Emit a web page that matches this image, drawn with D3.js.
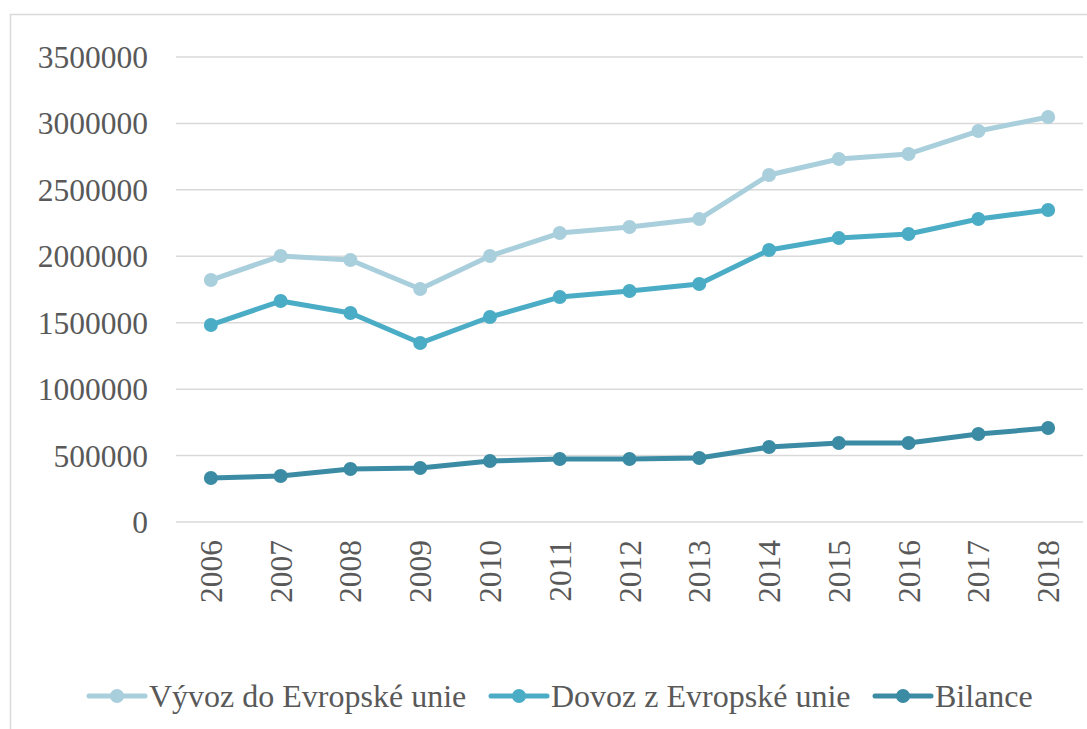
<!DOCTYPE html>
<meta charset="utf-8">
<style>
body { margin: 0; background: #fff; }
svg text { font-family: "Liberation Serif", Tinos, "Times New Roman", "DejaVu Serif", serif; }
.grid line { stroke: #d9d9d9; stroke-width: 1.5px; }
.axis text { fill: #595959; font-size: 31.5px; }
.legend text { fill: #595959; font-size: 32px; }
</style>
<svg width="1087" height="729"></svg>
<script src="https://cdn.jsdelivr.net/npm/d3@7"></script>
<script>

var years = ["2006", "2007", "2008", "2009", "2010", "2011", "2012", "2013", "2014", "2015", "2016", "2017", "2018"];
var vyvoz = [1821000, 2002000, 1972000, 1754000, 2002000, 2175000, 2220000, 2280000, 2612000, 2732000, 2770000, 2943000, 3048000];
var dovoz = [1483000, 1663000, 1573000, 1347000, 1543000, 1693000, 1739000, 1791000, 2047000, 2137000, 2168000, 2281000, 2348000];
var bilance = [331000, 346000, 399000, 406000, 459000, 474000, 474000, 482000, 564000, 595000, 595000, 662000, 707000];
var yTicks = [0, 500000, 1000000, 1500000, 2000000, 2500000, 3000000, 3500000];

var series = [
    {name: "Vývoz do Evropské unie", values: vyvoz, color: "#a9cfdc"},
    {name: "Dovoz z Evropské unie", values: dovoz, color: "#4bacc6"},
    {name: "Bilance", values: bilance, color: "#3a8ba3"}
];

var svg = d3.select("svg");

// chart area border
svg.append("rect")
    .attr("x", 10.5).attr("y", 14.5)
    .attr("width", 1100).attr("height", 800)
    .attr("fill", "none")
    .attr("stroke", "#d9d9d9")
    .attr("stroke-width", 1.5);

var x = d3.scaleBand()
    .domain(years)
    .range([176, 1083]);

var y = d3.scaleLinear()
    .domain([0, 3500000])
    .range([522, 57]);

// gridlines
svg.append("g")
    .attr("class", "grid")
  .selectAll("line")
  .data(yTicks)
  .enter().append("line")
    .attr("x1", x.range()[0])
    .attr("x2", x.range()[1])
    .attr("y1", function(d) { return y(d); })
    .attr("y2", function(d) { return y(d); });

// y axis labels
svg.append("g")
    .attr("class", "axis")
  .selectAll("text")
  .data(yTicks)
  .enter().append("text")
    .attr("x", 148)
    .attr("y", function(d) { return y(d); })
    .attr("dy", "0.35em")
    .attr("text-anchor", "end")
    .text(function(d) { return d; });

// x axis labels (rotated)
svg.append("g")
    .attr("class", "axis")
  .selectAll("text")
  .data(years)
  .enter().append("text")
    .attr("transform", function(d) {
        return "translate(" + (x(d) + x.bandwidth() / 2) + ",540) rotate(-90)";
    })
    .attr("dy", "0.35em")
    .attr("text-anchor", "end")
    .text(function(d) { return d; });

var line = d3.line()
    .x(function(d, i) { return x(years[i]) + x.bandwidth() / 2; })
    .y(function(d) { return y(d); });

var lines = svg.append("g");

series.forEach(function(s) {
    var g = lines.append("g");
    g.append("path")
        .datum(s.values)
        .attr("fill", "none")
        .attr("stroke", s.color)
        .attr("stroke-width", 5)
        .attr("stroke-linejoin", "round")
        .attr("d", line);
    g.selectAll("circle")
        .data(s.values)
        .enter().append("circle")
        .attr("cx", function(d, i) { return x(years[i]) + x.bandwidth() / 2; })
        .attr("cy", function(d) { return y(d); })
        .attr("r", 7)
        .attr("fill", s.color);
});

// legend
var legendX = [89, 491, 875];
var legend = svg.append("g")
    .attr("class", "legend")
  .selectAll("g")
  .data(series)
  .enter().append("g")
    .attr("transform", function(d, i) { return "translate(" + legendX[i] + ",696)"; });

legend.append("line")
    .attr("x1", 0).attr("x2", 56)
    .attr("stroke", function(d) { return d.color; })
    .attr("stroke-width", 5)
    .attr("stroke-linecap", "round");

legend.append("circle")
    .attr("cx", 28)
    .attr("r", 7)
    .attr("fill", function(d) { return d.color; });

legend.append("text")
    .attr("x", 60)
    .attr("dy", "0.35em")
    .text(function(d) { return d.name; });

</script>
